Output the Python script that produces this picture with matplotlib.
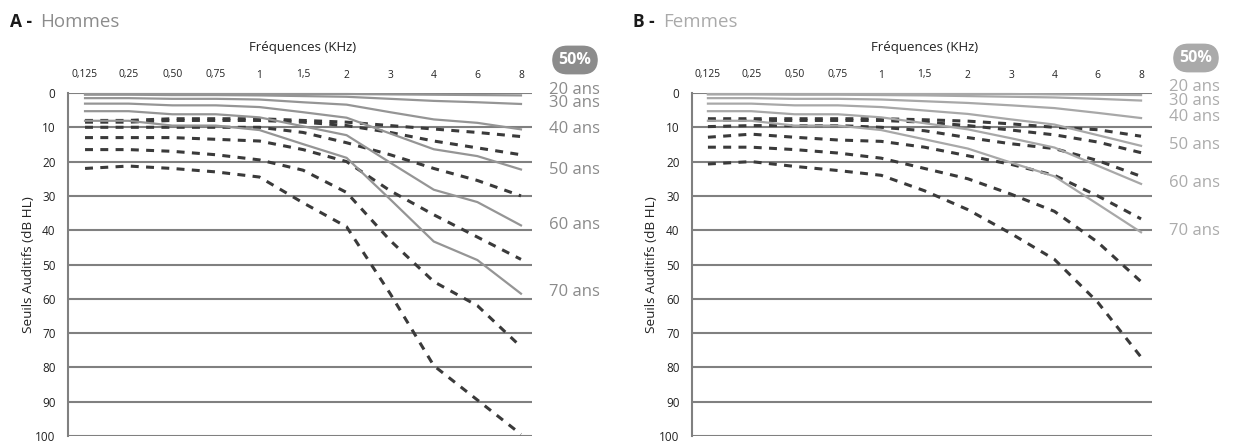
import matplotlib
matplotlib.use("Agg")
import matplotlib.pyplot as plt

plt.rcParams['font.family'] = ['Open Sans', 'DejaVu Sans']

# ---------------- data ----------------
freq_labels = ["0,125", "0,25", "0,50", "0,75", "1", "1,5", "2", "3", "4", "6", "8"]
age_labels = ["20 ans", "30 ans", "40 ans", "50 ans", "60 ans", "70 ans"]
y_ticks = [0, 10, 20, 30, 40, 50, 60, 70, 80, 90, 100]

# Hommes - 50% (solid grey)
h50_20 = [0.3, 0.3, 0.3, 0.3, 0.3, 0.3, 0.3, 0.4, 0.5, 0.6, 0.7]
h50_30 = [0.5, 0.5, 0.6, 0.6, 0.7, 0.9, 1.1, 1.7, 2.3, 2.7, 3.2]
h50_40 = [1.5, 1.5, 1.7, 1.7, 1.9, 2.7, 3.4, 5.6, 7.7, 8.7, 10.6]
h50_50 = [3.1, 3.1, 3.6, 3.6, 4.1, 5.6, 7.2, 11.8, 16.4, 18.4, 22.3]
h50_60 = [5.3, 5.3, 6.2, 6.2, 7.1, 9.7, 12.3, 20.3, 28.2, 31.8, 38.6]
h50_70 = [8.1, 8.1, 9.5, 9.5, 10.8, 14.9, 18.9, 31.0, 43.3, 48.7, 58.5]

# Hommes - dashed (dark)
hd_20 = [8.0, 8.0, 7.5, 7.5, 7.5, 8.0, 8.5, 9.5, 10.5, 11.5, 12.7]
hd_30 = [8.5, 8.5, 8.0, 8.0, 8.0, 8.5, 9.5, 11.5, 14.0, 16.0, 18.0]
hd_40 = [10.0, 10.0, 10.0, 10.0, 10.0, 11.5, 14.5, 18.0, 22.0, 25.5, 30.0]
hd_50 = [13.0, 13.0, 13.0, 13.5, 14.0, 16.5, 20.0, 28.5, 35.5, 42.0, 48.5]
hd_60 = [16.5, 16.5, 17.0, 18.0, 19.5, 22.5, 29.0, 43.0, 55.0, 62.0, 74.0]
hd_70 = [22.0, 21.3, 22.0, 23.0, 24.5, 32.0, 39.0, 58.5, 79.5, 89.5, 99.5]

# Femmes - 50% (solid grey)
f50_20 = [0.3, 0.3, 0.3, 0.3, 0.3, 0.3, 0.3, 0.3, 0.4, 0.5, 0.6]
f50_30 = [0.4, 0.4, 0.5, 0.5, 0.6, 0.7, 0.9, 1.1, 1.3, 1.7, 2.2]
f50_40 = [1.5, 1.5, 1.7, 1.7, 1.9, 2.4, 2.9, 3.6, 4.4, 5.8, 7.3]
f50_50 = [3.1, 3.1, 3.6, 3.6, 4.1, 5.1, 6.1, 7.7, 9.2, 12.3, 15.4]
f50_60 = [5.3, 5.3, 6.2, 6.2, 7.1, 8.8, 10.6, 13.2, 15.9, 21.2, 26.5]
f50_70 = [8.1, 8.1, 9.5, 9.5, 10.8, 13.5, 16.2, 20.3, 24.3, 32.4, 40.6]

# Femmes - dashed (dark)
fd_20 = [7.5, 7.5, 7.5, 7.5, 7.5, 7.8, 8.2, 9.0, 10.0, 10.7, 12.6]
fd_30 = [8.0, 8.0, 8.0, 8.0, 8.0, 8.5, 9.5, 10.8, 12.2, 14.3, 17.4]
fd_40 = [9.8, 9.5, 9.5, 9.5, 10.0, 11.0, 13.0, 14.8, 16.2, 19.7, 24.3]
fd_50 = [12.9, 12.0, 12.9, 13.7, 14.1, 15.8, 18.3, 20.8, 24.0, 30.0, 36.7]
fd_60 = [15.8, 15.8, 16.5, 17.5, 19.0, 22.0, 25.0, 29.5, 34.5, 43.5, 55.0]
fd_70 = [20.7, 20.0, 21.4, 22.6, 24.0, 28.5, 34.0, 41.0, 48.5, 61.0, 77.0]

# ---------------- layout ----------------
W, H = 1234, 443
fig = plt.figure(figsize=(W / 100, H / 100), dpi=100)

def px_axes(x0, x1, ytop, ybot):
    return fig.add_axes([x0 / W, (H - ybot) / H, (x1 - x0) / W, (ybot - ytop) / H])

panels = [
    dict(ax=px_axes(68, 532, 93, 436), letter="A -", name="Hommes", tx=10,
         med=[h50_20, h50_30, h50_40, h50_50, h50_60, h50_70],
         dash=[hd_20, hd_30, hd_40, hd_50, hd_60, hd_70],
         label_y=[-1.0, 3.0, 10.5, 22.4, 38.5, 58.0],
         solid_c="#959595", lab_c="#8a8a8a", box_c="#8c8c8c", name_c="#8c8c8c",
         box_xy=(575, 60), pad_left=17),
    dict(ax=px_axes(692, 1152, 93, 436), letter="B -", name="Femmes", tx=633,
         med=[f50_20, f50_30, f50_40, f50_50, f50_60, f50_70],
         dash=[fd_20, fd_30, fd_40, fd_50, fd_60, fd_70],
         label_y=[-1.8, 2.4, 6.9, 15.2, 26.3, 40.2],
         solid_c="#a8a8a8", lab_c="#ababab", box_c="#aaaaaa", name_c="#aaaaaa",
         box_xy=(1196, 58), pad_left=16),
]

xs = list(range(len(freq_labels)))
step = 43.5

for p in panels:
    ax = p["ax"]
    ax.set_ylim(100, 0)
    ax.set_xlim(-p["pad_left"] / step, 10 + 11 / step)
    ax.set_yticks(y_ticks)
    ax.set_yticklabels([str(v) for v in y_ticks], fontsize=8.5, color="#222222")
    ax.set_xticks(xs)
    ax.set_xticklabels(freq_labels, fontsize=7.4, color="#222222")
    ax.tick_params(axis="x", top=True, labeltop=True, bottom=False,
                   labelbottom=False, length=0, pad=9)
    ax.tick_params(axis="y", length=0, pad=9)
    for s in ["top", "right", "bottom"]:
        ax.spines[s].set_visible(False)
    ax.spines["left"].set_color("#808080")
    ax.spines["left"].set_linewidth(1.5)
    ax.grid(axis="y", color="#808080", linewidth=1.5)
    ax.grid(axis="x", visible=False)
    ax.set_axisbelow(True)
    ax.set_facecolor("none")

    for vals in p["dash"]:
        ax.plot(xs, vals, color="#3a3a3a", linewidth=2.2, dashes=(2.6, 2.4),
                clip_on=False, zorder=3)
    for vals in p["med"]:
        ax.plot(xs, vals, color=p["solid_c"], linewidth=1.6, clip_on=False, zorder=4)

    for lab, ly in zip(age_labels, p["label_y"]):
        ax.text(10.64, ly, lab, fontsize=12, color=p["lab_c"], ha="left",
                va="center", clip_on=False, linespacing=0.9)

    ax.text(5, -13.2, "Fréquences (KHz)", fontsize=9.5, color="#222222",
            ha="center", va="center", clip_on=False)
    ax.text(-1.3, 50, "Seuils Auditifs (dB HL)", fontsize=9.7, color="#222222",
            rotation=90, ha="center", va="center", clip_on=False)

    bx, by = p["box_xy"]
    fig.text(bx / W, 1 - by / H, "50%", fontsize=11.5, fontweight="bold",
             color="white", ha="center", va="center",
             bbox=dict(boxstyle="round,pad=0.4,rounding_size=0.95",
                       fc=p["box_c"], ec="none"))

    fig.text(p["tx"] / W, 1 - 22 / H, p["letter"], fontsize=12.5,
             fontweight="bold", color="#1a1a1a", ha="left", va="center")
    fig.text((p["tx"] + 30) / W, 1 - 22 / H, p["name"], fontsize=13.5,
             color=p["name_c"], ha="left", va="center")

fig.savefig("out.png", dpi=100, facecolor="white")
